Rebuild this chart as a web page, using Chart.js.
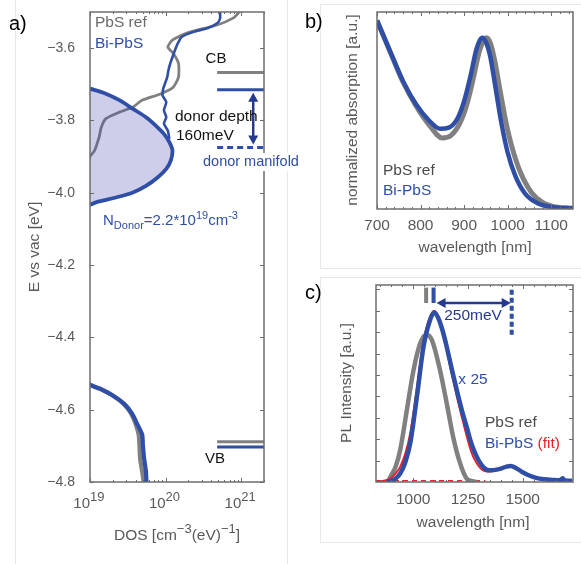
<!DOCTYPE html>
<html>
<head>
<meta charset="utf-8">
<script src="https://cdn.jsdelivr.net/npm/chart.js@4.4.1/dist/chart.umd.min.js"></script>
<style>
  html, body { margin: 0; padding: 0; background: #fff; }
  #page { position: relative; width: 581px; height: 564px; overflow: hidden; }
  canvas { position: absolute; }
  .panel-box { position: absolute; border: 1px solid #e8e8e8; }
</style>
</head>
<body>
<div id="page">
  <div class="panel-box" style="left:15px; top:-2px; width:271px; height:570px;"></div>
  <div class="panel-box" style="left:320px; top:4px; width:280px; height:263px;"></div>
  <div class="panel-box" style="left:320px; top:277px; width:280px; height:264px;"></div>
  <canvas id="absChart" width="291" height="270" style="left:290px; top:0;"></canvas>
  <canvas id="plChart" width="291" height="294" style="left:290px; top:270px;"></canvas>
  <canvas id="bandChart" width="310" height="564" style="left:0; top:0;"></canvas>
</div>
<script>
// (a) density of states vs energy
const energyTicks = [-4.8, -4.6, -4.4, -4.2, -4.0, -3.8, -3.6];
const dosDecades = [1e19, 1e20, 1e21];

const cbEnergyRef = [-3.49, -3.503, -3.517, -3.536, -3.558, -3.578, -3.597, -3.614, -3.642, -3.680, -3.708, -3.726, -3.745, -3.763, -3.777, -3.795, -3.819, -3.846, -3.883, -3.897, -3.91];
const cbDosRef = [1.0e21, 9.1e20, 7.8e20, 4.8e20, 1.9e20, 1.23e20, 1.07e20, 1.26e20, 1.48e20, 1.48e20, 1.26e20, 8.7e19, 4.8e19, 3.7e19, 2.45e19, 1.62e19, 1.41e19, 1.32e19, 1.15e19, 1.02e19, 0.95e19];

const cbEnergyBi = [-3.49, -3.502, -3.518, -3.531, -3.545, -3.555, -3.569, -3.592, -3.619, -3.643, -3.661, -3.680, -3.698, -3.712, -3.731, -3.749, -3.772, -3.791, -3.809, -3.828, -3.851];
const cbDosBi = [5.3e20, 5.25e20, 5.25e20, 4.8e20, 3.55e20, 2.35e20, 1.63e20, 1.41e20, 1.26e20, 1.15e20, 1.09e20, 1.05e20, 9.8e19, 9.3e19, 9.1e19, 1.02e20, 9.5e19, 1.02e20, 9.5e19, 1.07e20, 1.12e20];

const donorEnergy = [-3.712, -3.726, -3.744, -3.768, -3.791, -3.814, -3.837, -3.860, -3.883, -3.911, -3.934, -3.957, -3.981, -3.999, -4.013, -4.024, -4.033];
const donorDos = [1.0e19, 1.62e19, 2.45e19, 3.7e19, 5.5e19, 7.4e19, 9.5e19, 1.12e20, 1.23e20, 1.17e20, 1.02e20, 7.9e19, 5.5e19, 3.7e19, 2.2e19, 1.32e19, 1.0e19];

const vbEnergy = [-4.52, -4.531, -4.542, -4.561, -4.586, -4.611, -4.639, -4.669, -4.697, -4.736, -4.772, -4.81];
const vbDosRef = [0.9e19, 1.0e19, 1.35e19, 2.0e19, 2.85e19, 3.5e19, 4.0e19, 4.4e19, 4.5e19, 4.6e19, 4.9e19, 5.2e19];
const vbDosBi = [0.9e19, 1.0e19, 1.35e19, 2.0e19, 2.9e19, 3.6e19, 4.2e19, 4.9e19, 5.0e19, 5.2e19, 5.5e19, 5.6e19];

const levelDos = [4.8e20, 2.0e21];
const levelRef = [-3.667, -4.689];   // CB, VB
const levelBi = [-3.715, -4.703];    // CB, VB
const donorLevel = -3.875;
const depthArrowDos = 1.44e21;

// (b) absorption
const absTicks = [700, 800, 900, 1000, 1100];
const absWavelengthRef = [700, 730, 760, 790, 820, 850, 870, 890, 905, 920, 935, 945, 952, 960, 970, 982, 995, 1010, 1030, 1055, 1080, 1110, 1150];
const absRef = [1.10, 0.92, 0.74, 0.60, 0.49, 0.415, 0.43, 0.50, 0.60, 0.75, 0.92, 0.985, 1.0, 0.97, 0.87, 0.70, 0.52, 0.36, 0.21, 0.095, 0.038, 0.012, 0.004];
const absWavelengthBi = [700, 730, 760, 790, 820, 845, 865, 885, 900, 915, 928, 936, 942, 950, 960, 972, 985, 1000, 1018, 1040, 1070, 1105, 1150];
const absBi = [1.10, 0.92, 0.745, 0.61, 0.515, 0.468, 0.475, 0.53, 0.63, 0.78, 0.93, 0.985, 1.0, 0.975, 0.89, 0.71, 0.51, 0.33, 0.19, 0.09, 0.032, 0.01, 0.004];

// (c) photoluminescence
const plTicks = [1000, 1250, 1500];
const plWavelengthRef = [885, 896, 920, 941, 971, 1001, 1032, 1059, 1085, 1123, 1153, 1183, 1214, 1244, 1270, 1290];
const plRef = [0, 0.03, 0.09, 0.19, 0.42, 0.65, 0.81, 0.86, 0.83, 0.65, 0.46, 0.26, 0.11, 0.02, 0.005, 0];
const plWavelengthBi = [880, 896, 920, 941, 965, 987, 1017, 1047, 1077, 1096, 1115, 1135, 1153, 1176, 1199, 1222, 1244, 1267, 1290, 1312, 1335, 1358, 1381, 1404, 1426, 1445, 1456, 1478, 1502, 1530, 1562, 1600, 1638, 1670, 1683, 1690, 1700, 1727];
const plBi = [0, 0.005, 0.02, 0.05, 0.12, 0.23, 0.50, 0.79, 0.946, 0.99, 0.956, 0.88, 0.79, 0.66, 0.537, 0.42, 0.323, 0.22, 0.148, 0.10, 0.072, 0.068, 0.072, 0.08, 0.09, 0.094, 0.09, 0.075, 0.055, 0.038, 0.024, 0.016, 0.012, 0.01, 0.022, 0.01, 0.008, 0.006];
const plWavelengthFit = [830, 860, 880, 900, 920, 941, 965, 987, 1017, 1047, 1077, 1096, 1115, 1135, 1153, 1176, 1199, 1222, 1244, 1267, 1290, 1312, 1335, 1358, 1381, 1404, 1426, 1450, 1478, 1502, 1530, 1562, 1600, 1640, 1680, 1727];
const plFit = [0.003, 0.006, 0.012, 0.025, 0.05, 0.09, 0.17, 0.29, 0.55, 0.82, 0.965, 1.0, 0.96, 0.87, 0.77, 0.63, 0.50, 0.38, 0.27, 0.17, 0.11, 0.075, 0.062, 0.063, 0.07, 0.08, 0.088, 0.09, 0.078, 0.058, 0.038, 0.022, 0.011, 0.005, 0.002, 0.001];
const plFitBaseline = [830, 1330];
const plPeakRef = 1059;
const plPeakBi = 1093;
const plDonorPeak = 1450;

const FONT = '"Liberation Sans", Arial, Helvetica, sans-serif';
const GRAY = '#808080';
const BLUE = '#2f4ea6';
const NAVY = '#25398f';
const RED = '#e62129';
const TEXT = '#595959';
const FRAME = '#6e6e6e';

function pts(xs, ys) {
  return xs.map((x, i) => ({ x: x, y: ys[i] }));
}

function line(data, color, width, extra) {
  return Object.assign({
    data: data,
    borderColor: color,
    borderWidth: width,
    pointRadius: 0,
    showLine: true,
    fill: false,
    tension: 0
  }, extra || {});
}

function text(ctx, str, x, y, o) {
  o = o || {};
  ctx.save();
  ctx.font = (o.size || 15) + 'px ' + FONT;
  ctx.fillStyle = o.color || TEXT;
  ctx.textAlign = o.align || 'left';
  ctx.textBaseline = o.baseline || 'middle';
  ctx.translate(x, y);
  if (o.rotate) ctx.rotate(o.rotate);
  ctx.fillText(str, 0, 0);
  ctx.restore();
}

// parts: [string, size, baseline shift, colour]
function richText(ctx, parts, x, y, align) {
  ctx.save();
  ctx.textBaseline = 'alphabetic';
  ctx.textAlign = 'left';
  let total = 0;
  parts.forEach(p => {
    ctx.font = p[1] + 'px ' + FONT;
    total += ctx.measureText(p[0]).width;
  });
  let cx = align === 'center' ? x - total / 2 : align === 'right' ? x - total : x;
  parts.forEach(p => {
    ctx.font = p[1] + 'px ' + FONT;
    ctx.fillStyle = p[3];
    ctx.fillText(p[0], cx, y + p[2]);
    cx += ctx.measureText(p[0]).width;
  });
  ctx.restore();
}

function arrowHead(ctx, x, y, angle, len, half) {
  ctx.save();
  ctx.translate(x, y);
  ctx.rotate(angle);
  ctx.beginPath();
  ctx.moveTo(0, 0);
  ctx.lineTo(-len, -half);
  ctx.lineTo(-len, half);
  ctx.closePath();
  ctx.fill();
  ctx.restore();
}

function doubleArrow(ctx, x1, y1, x2, y2, color) {
  const ang = Math.atan2(y2 - y1, x2 - x1);
  ctx.save();
  ctx.strokeStyle = color;
  ctx.fillStyle = color;
  ctx.lineWidth = 2.5;
  ctx.beginPath();
  ctx.moveTo(x1 + 6 * Math.cos(ang), y1 + 6 * Math.sin(ang));
  ctx.lineTo(x2 - 6 * Math.cos(ang), y2 - 6 * Math.sin(ang));
  ctx.stroke();
  arrowHead(ctx, x2, y2, ang, 9, 5);
  arrowHead(ctx, x1, y1, ang + Math.PI, 9, 5);
  ctx.restore();
}

// box around the plot with short inward ticks
function drawFrame(chart, xt, yt) {
  const { ctx, chartArea: a, scales } = chart;
  ctx.save();
  ctx.strokeStyle = FRAME;
  ctx.lineWidth = 1;
  ctx.beginPath();
  (xt || []).forEach(t => {
    const px = Math.round(scales.x.getPixelForValue(t[0])) + 0.5;
    ctx.moveTo(px, a.bottom); ctx.lineTo(px, a.bottom - t[1]);
    ctx.moveTo(px, a.top); ctx.lineTo(px, a.top + t[1]);
  });
  (yt || []).forEach(t => {
    const py = Math.round(scales.y.getPixelForValue(t[0])) + 0.5;
    ctx.moveTo(a.left, py); ctx.lineTo(a.left + t[1], py);
    ctx.moveTo(a.right, py); ctx.lineTo(a.right - t[1], py);
  });
  ctx.stroke();
  ctx.lineWidth = 1.5;
  ctx.strokeRect(a.left, a.top, a.right - a.left, a.bottom - a.top);
  ctx.restore();
}

const baseOptions = {
  animation: false,
  responsive: false,
  events: [],
  plugins: { legend: { display: false }, tooltip: { enabled: false } }
};

// pin the axis boxes so the plot area lands where the layout wants it
function fixedWidth(w) {
  return s => { s.width = w; s.paddingTop = 0; s.paddingBottom = 0; };
}
function fixedHeight(h) {
  return s => { s.height = h; s.paddingLeft = 0; s.paddingRight = 0; };
}
function setTicks(vals) { return s => { s.ticks = vals.map(v => ({ value: v })); }; }
const hidden = { grid: { display: false, drawTicks: false }, border: { display: false } };

// ---------- (a) ----------
const bandTickMarks = [];
dosDecades.forEach(d => {
  bandTickMarks.push([d, 4]);
  for (let k = 2; k <= 9; k++) if (d * k <= 2e21) bandTickMarks.push([d * k, 2]);
});

const bandPlugin = {
  id: 'bandDecor',
  afterDraw(chart) {
    const { ctx, scales: { x, y } } = chart;
    drawFrame(chart, bandTickMarks, energyTicks.map(v => [v, 4]));

    dosDecades.forEach(d => {
      const px = x.getPixelForValue(d);
      richText(ctx, [['10', 15, 0, TEXT]], px, 508, 'right');
      richText(ctx, [[String(Math.round(Math.log10(d))), 13, -7, TEXT]], px, 508, 'left');
    });
    richText(ctx, [['DOS [cm', 15.5, 0, TEXT], ['\u22123', 13, -7, TEXT], ['(eV)', 15.5, 0, TEXT], ['\u22121', 13, -7, TEXT], [']', 15.5, 0, TEXT]], 177, 540, 'center');
    text(ctx, 'E vs vac [eV]', 35, 247, { size: 15.5, align: 'center', rotate: -Math.PI / 2 });

    text(ctx, 'a)', 9, 24, { size: 20, color: '#000' });
    text(ctx, 'PbS ref', 95, 23, { size: 15.5, color: '#6a6a6a' });
    text(ctx, 'Bi-PbS', 95, 44, { size: 15.5, color: BLUE });

    text(ctx, 'CB', 216, 59, { size: 15, color: '#111', align: 'center' });
    text(ctx, 'VB', 215, 459, { size: 15, color: '#111', align: 'center' });

    const ax = x.getPixelForValue(depthArrowDos);
    doubleArrow(ctx, ax, y.getPixelForValue(levelBi[0]) + 3, ax, y.getPixelForValue(donorLevel) - 3, NAVY);
    text(ctx, 'donor depth', 175, 117, { size: 15.5, color: '#111' });
    text(ctx, '160meV', 176, 136, { size: 15.5, color: '#111' });

    ctx.save();
    ctx.font = '14.5px ' + FONT;
    const w = ctx.measureText('donor manifold').width;
    ctx.fillStyle = '#fff';
    ctx.fillRect(202, 153, w + 3, 18);
    ctx.restore();
    text(ctx, 'donor manifold', 203, 162, { size: 14.5, color: BLUE });

    richText(ctx, [
      ['N', 15, 0, BLUE], ['Donor', 11, 4, BLUE], ['=2.2*10', 15, 0, BLUE],
      ['19', 11, -6, BLUE], ['cm', 15, 0, BLUE], ['-3', 11, -6, BLUE]
    ], 103, 225, 'left');
  }
};

new Chart(document.getElementById('bandChart'), {
  type: 'scatter',
  data: {
    datasets: [
      line(pts(donorDos, donorEnergy), BLUE, 3.8, { fill: 'shape', backgroundColor: 'rgba(60,60,170,0.25)', tension: 0.3 }),
      line(pts(cbDosBi, cbEnergyBi), BLUE, 2.6, { tension: 0.2 }),
      line(pts(cbDosRef, cbEnergyRef), GRAY, 2.8, { tension: 0.2 }),
      line(pts(vbDosBi, vbEnergy), BLUE, 4.2, { tension: 0.2 }),
      line(pts(vbDosRef, vbEnergy), GRAY, 4.2, { tension: 0.2 }),
      line(pts(levelDos, [levelBi[0], levelBi[0]]), BLUE, 3),
      line(pts(levelDos, [levelRef[0], levelRef[0]]), GRAY, 3),
      line(pts(levelDos, [levelBi[1], levelBi[1]]), BLUE, 3),
      line(pts(levelDos, [levelRef[1], levelRef[1]]), GRAY, 3),
      line(pts(levelDos, [donorLevel, donorLevel]), BLUE, 3, { borderDash: [6, 4] })
    ]
  },
  options: Object.assign({}, baseOptions, {
    layout: { padding: { left: 0, right: 46, top: 12, bottom: 0 } },
    scales: {
      x: Object.assign({}, hidden, {
        type: 'logarithmic', min: 1e19, max: 2e21,
        ticks: { display: false },
        afterFit: fixedHeight(82)
      }),
      y: Object.assign({}, hidden, {
        type: 'linear', min: -4.8, max: -3.5,
        afterBuildTicks: setTicks(energyTicks),
        ticks: {
          font: { family: FONT, size: 14 }, color: TEXT, padding: 15,
          callback: v => '\u2212' + Math.abs(v).toFixed(1)
        },
        afterFit: fixedWidth(90)
      })
    }
  }),
  plugins: [bandPlugin]
});

// ---------- (b) ----------
const absTickMarks = [];
for (let w = 700; w <= 1150; w += 20) absTickMarks.push([w, w % 100 === 0 ? 4 : 2]);

new Chart(document.getElementById('absChart'), {
  type: 'scatter',
  data: {
    datasets: [
      line(pts(absWavelengthBi, absBi), BLUE, 4.5, { cubicInterpolationMode: 'monotone' }),
      line(pts(absWavelengthRef, absRef), GRAY, 5, { cubicInterpolationMode: 'monotone' })
    ]
  },
  options: Object.assign({}, baseOptions, {
    layout: { padding: { left: 0, right: 8, top: 12, bottom: 0 } },
    scales: {
      x: Object.assign({}, hidden, {
        type: 'linear', min: 700, max: 1150,
        afterBuildTicks: setTicks(absTicks),
        ticks: { font: { family: FONT, size: 15.5 }, color: TEXT, padding: 7, maxRotation: 0, callback: v => String(v) },
        afterFit: fixedHeight(61)
      }),
      y: Object.assign({}, hidden, {
        type: 'linear', min: 0, max: 1.15,
        ticks: { display: false },
        afterFit: fixedWidth(87)
      })
    }
  }),
  plugins: [{
    id: 'absDecor',
    afterDraw(chart) {
      const ctx = chart.ctx;
      drawFrame(chart, absTickMarks, []);
      text(ctx, 'wavelength [nm]', 185, 248, { size: 15.5, align: 'center' });
      text(ctx, 'normalized absorption [a.u.]', 63, 110, { size: 15.5, align: 'center', rotate: -Math.PI / 2 });
      text(ctx, 'b)', 15, 22, { size: 20, color: '#000' });
      text(ctx, 'PbS ref', 93, 171, { size: 15.5, color: '#4a4a4a' });
      text(ctx, 'Bi-PbS', 93, 191, { size: 15.5, color: BLUE });
    }
  }]
});

// ---------- (c) ----------
const plTickMarks = [];
for (let w = 850; w <= 1700; w += 50) plTickMarks.push([w, w % 250 === 0 ? 4 : 2]);
const plYTickMarks = [];
for (let v = 0.125; v < 1.15; v += 0.125) plYTickMarks.push([v, 4]);

new Chart(document.getElementById('plChart'), {
  type: 'scatter',
  data: {
    datasets: [
      line(pts([plPeakBi, plPeakBi], [1.045, 1.135]), BLUE, 4),
      line(pts([plPeakRef, plPeakRef], [1.045, 1.135]), GRAY, 4),
      line(pts([plDonorPeak, plDonorPeak], [0.86, 1.13]), BLUE, 4, { borderDash: [5, 3] }),
      line(pts(plWavelengthBi, plBi), BLUE, 4.5, { cubicInterpolationMode: 'monotone' }),
      line(pts(plWavelengthFit, plFit), RED, 2, { cubicInterpolationMode: 'monotone' }),
      line(pts(plWavelengthRef, plRef), GRAY, 4.5, { cubicInterpolationMode: 'monotone' }),
      line(pts(plFitBaseline, [0.008, 0.008]), RED, 1.5, { borderDash: [5, 4] })
    ]
  },
  options: Object.assign({}, baseOptions, {
    layout: { padding: { left: 0, right: 8, top: 15, bottom: 0 } },
    scales: {
      x: Object.assign({}, hidden, {
        type: 'linear', min: 830, max: 1730,
        afterBuildTicks: setTicks(plTicks),
        ticks: { font: { family: FONT, size: 15.5 }, color: TEXT, padding: 8, maxRotation: 0, callback: v => String(v) },
        afterFit: fixedHeight(82)
      }),
      y: Object.assign({}, hidden, {
        type: 'linear', min: 0, max: 1.15,
        ticks: { display: false },
        afterFit: fixedWidth(86)
      })
    }
  }),
  plugins: [{
    id: 'plDecor',
    afterDraw(chart) {
      const { ctx, scales: { x, y } } = chart;
      drawFrame(chart, plTickMarks, plYTickMarks);
      doubleArrow(ctx, x.getPixelForValue(plPeakBi) + 3, y.getPixelForValue(1.045),
        x.getPixelForValue(plDonorPeak) - 1, y.getPixelForValue(1.045), NAVY);
      text(ctx, '250meV', 183, 46, { size: 15.5, color: NAVY, align: 'center' });
      text(ctx, 'x 25', 183, 110, { size: 15.5, color: BLUE, align: 'center' });
      text(ctx, 'wavelength [nm]', 183, 253, { size: 15.5, align: 'center' });
      text(ctx, 'PL Intensity [a.u.]', 57, 113, { size: 15.5, align: 'center', rotate: -Math.PI / 2 });
      text(ctx, 'c)', 15, 23, { size: 20, color: '#000' });
      text(ctx, 'PbS ref', 195, 153, { size: 15.5, color: '#4a4a4a' });
      richText(ctx, [['Bi-PbS ', 15.5, 0, BLUE], ['(fit)', 15.5, 0, RED]], 195, 178, 'left');
    }
  }]
});
</script>
</body>
</html>
